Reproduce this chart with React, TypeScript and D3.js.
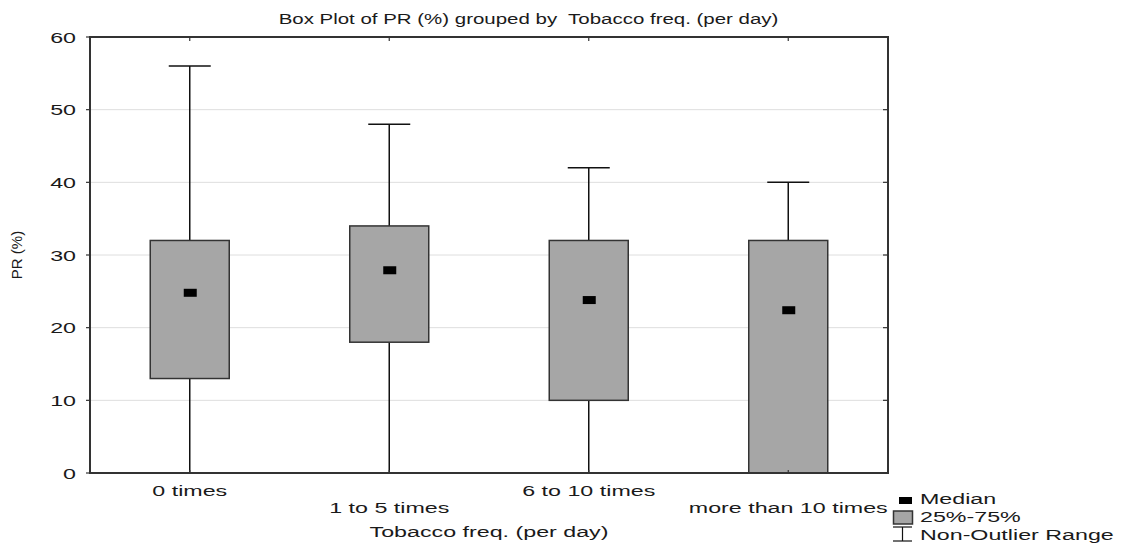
import React from "react";
import * as d3 from "d3";

const categories = ["0 times", "1 to 5 times", "6 to 10 times", "more than 10 times"];
const mins = [0, 0, 0, 0];
const q1s = [13, 18, 10, 0];
const medians = [24.8, 27.9, 23.8, 22.4];
const q3s = [32, 34, 32, 32];
const maxs = [56, 48, 42, 40];
const yTicks = [0, 10, 20, 30, 40, 50, 60];

const W = 1131, H = 547;
const M = { left: 90, right: 888, top: 37, bottom: 473 };
const FONT = "'Liberation Sans', Arial, sans-serif";
const SX = 1.5;

function SText({ x, y, anchor = "start", sx = SX, size = 15.5, children }: any) {
  return (
    <text transform={`translate(${x},${y}) scale(${sx},1)`} textAnchor={anchor}
      fontFamily={FONT} fontSize={size} fill="#1a1a1a" style={{ whiteSpace: "pre" }}>{children}</text>
  );
}

export default function App() {
  const x = d3.scaleBand<string>().domain(categories).range([M.left, M.right]).padding(0);
  const y = d3.scaleLinear().domain([0, 60]).range([M.bottom, M.top]);
  const bw = 79;
  const capW = 42;
  const cx = (c: string) => (x(c) as number) + x.bandwidth() / 2;

  return (
    <svg width={W} height={H} style={{ position: "absolute", left: 0, top: 0, background: "#fff" }}>
      {/* grid */}
      {yTicks.filter(t => t > 0 && t < 60).map(t => (
        <line key={"g" + t} x1={M.left} x2={M.right} y1={y(t)} y2={y(t)} stroke="#dedede" strokeWidth={1} />
      ))}
      {/* boxes */}
      {categories.map((c, i) => {
        const X = cx(c);
        return (
          <g key={c}>
            <line x1={X} x2={X} y1={y(maxs[i])} y2={y(q3s[i])} stroke="#111" strokeWidth={1.5} />
            <line x1={X} x2={X} y1={y(q1s[i])} y2={y(mins[i])} stroke="#111" strokeWidth={1.5} />
            <line x1={X - capW / 2} x2={X + capW / 2} y1={y(maxs[i])} y2={y(maxs[i])} stroke="#111" strokeWidth={1.5} />
            <rect x={X - bw / 2} y={y(q3s[i])} width={bw} height={y(q1s[i]) - y(q3s[i])}
              fill="#a6a6a6" stroke="#333" strokeWidth={1.5} />
            <rect x={X - 6} y={y(medians[i]) - 4} width={13} height={8} fill="#000" />
          </g>
        );
      })}
      {/* frame */}
      <rect x={M.left} y={M.top} width={M.right - M.left} height={M.bottom - M.top} fill="none" stroke="#333" strokeWidth={2} />
      {/* ticks */}
      {yTicks.map(t => (
        <g key={"t" + t}>
          <line x1={M.left - 4} x2={M.left} y1={y(t)} y2={y(t)} stroke="#333" strokeWidth={1.2} />
          <line x1={M.right - 5} x2={M.right} y1={y(t)} y2={y(t)} stroke="#333" strokeWidth={1.2} />
          <SText x={76} y={y(t) + 5.5} anchor="end">{t}</SText>
        </g>
      ))}
      {categories.map((c, i) => (
        <g key={"xt" + c}>
          <line x1={cx(c)} x2={cx(c)} y1={M.top} y2={M.top + 4} stroke="#333" strokeWidth={1.2} />
          <line x1={cx(c)} x2={cx(c)} y1={M.bottom} y2={M.bottom - 3} stroke="#333" strokeWidth={1.2} />
          <SText x={cx(c)} y={i % 2 === 0 ? 495.5 : 512.5} anchor="middle">{c}</SText>
        </g>
      ))}
      {/* titles */}
      <SText x={528.5} y={23.5} anchor="middle" sx={1.32}>{"Box Plot of PR (%) grouped by  Tobacco freq. (per day)"}</SText>
      <SText x={489} y={536.5} anchor="middle">Tobacco freq. (per day)</SText>
      <text transform="translate(22,255) rotate(-90)" textAnchor="middle" fontFamily={FONT} fontSize={15} fill="#1a1a1a">PR (%)</text>
      {/* legend */}
      <rect x={899} y={497} width={13} height={7} fill="#000" />
      <SText x={920} y={504}>Median</SText>
      <rect x={893.5} y={511} width={19} height={13} fill="#a6a6a6" stroke="#333" strokeWidth={1.5} />
      <SText x={920} y={521.7}>25%-75%</SText>
      <line x1={893} x2={912} y1={527} y2={527} stroke="#111" strokeWidth={1.2} />
      <line x1={893} x2={912} y1={541} y2={541} stroke="#111" strokeWidth={1.2} />
      <line x1={902.5} x2={902.5} y1={527} y2={541} stroke="#111" strokeWidth={1.2} />
      <SText x={920} y={539.5}>Non-Outlier Range</SText>
    </svg>
  );
}
